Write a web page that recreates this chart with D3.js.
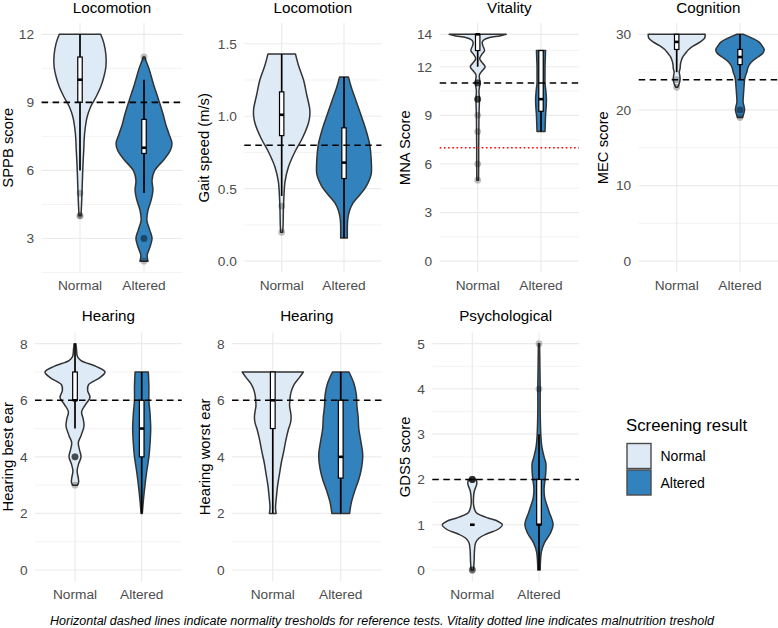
<!DOCTYPE html>
<html><head><meta charset="utf-8">
<script src="https://cdn.jsdelivr.net/npm/d3@7"></script>
<style>
body{margin:0;background:#fff}
svg{display:block}
text{font-family:"Liberation Sans",Arial,Helvetica,sans-serif}
</style>
</head><body>
<svg id="chart" width="778" height="628"></svg>
<script>
// ---------------- data ----------------
const groups = ["Normal", "Altered"];
const panelTitles = ["Locomotion","Locomotion","Vitality","Cognition","Hearing","Hearing","Psychological"];
const yTitles = ["SPPB score","Gait speed (m/s)","MNA Score","MEC score","Hearing best ear","Hearing worst ear","GDS5 score"];
const yLimits = [[2,12],[0,1.565],[0,14],[0,30],[0,8],[0,8],[0,5]];
const yBreaks = [[3,6,9,12],[0,0.5,1,1.5],[0,3,6,9,12,14],[0,10,20,30],[0,2,4,6,8],[0,2,4,6,8],[0,1,2,3,4,5]];
const yBreakLabels = [["3","6","9","12"],["0.0","0.5","1.0","1.5"],["0","3","6","9","12","14"],["0","10","20","30"],["0","2","4","6","8"],["0","2","4","6","8"],["0","1","2","3","4","5"]];
const normalityThresholds = [9, 0.8, 11, 24, 6, 6, 2];
const malnutritionThreshold = 7; // Vitality panel only
const captionText = "Horizontal dashed lines indicate normality tresholds for reference tests. Vitality dotted line indicates malnutrition treshold";
const legendTitle = "Screening result";

// violin profiles: [value, relative half width]
const sppbNormal = [[4,.035],[4.69,.06],[5.43,.08],[6.16,.10],[6.9,.13],[7.63,.16],[8.37,.25],[8.81,.37],[9.25,.56],[9.69,.72],[10.13,.83],[10.57,.90],[11.09,.90],[11.6,.83],[12,.72]];
const sppbAltered = [[2,.14],[2.26,.11],[2.6,.20],[3,.28],[3.37,.20],[3.8,.10],[4.25,.14],[4.7,.25],[5.13,.31],[5.57,.28],[6,.37],[6.5,.71],[6.9,.92],[7.2,.97],[7.6,.87],[8,.76],[8.4,.68],[9.1,.51],[9.8,.33],[10.5,.17],[10.9,.05],[11,.03]];
const gaitNormal = [[0.2,.035],[0.25,.05],[0.35,.06],[0.45,.08],[0.55,.12],[0.65,.24],[0.75,.46],[0.85,.74],[0.95,.95],[1.0,1.0],[1.05,1.0],[1.15,.89],[1.25,.78],[1.35,.60],[1.43,.49]];
const gaitAltered = [[0.16,.12],[0.25,.12],[0.3,.14],[0.35,.20],[0.4,.32],[0.45,.53],[0.5,.74],[0.55,.88],[0.6,.97],[0.7,.97],[0.8,.92],[0.9,.79],[1.0,.62],[1.1,.44],[1.2,.26],[1.27,.16]];
const mnaNormal = [[5,.03],[6,.035],[7,.035],[8,.04],[9,.045],[10,.06],[10.5,.045],[11,.08],[11.5,.06],[11.75,.16],[12,.26],[12.25,.16],[12.5,.07],[12.75,.14],[13,.24],[13.3,.18],[13.5,.16],[13.65,.21],[13.8,.42],[13.9,.77],[14,1.0]];
const mnaAltered = [[8,.14],[8.5,.15],[9,.16],[9.5,.18],[10,.19],[10.5,.17],[11,.14],[11.5,.14],[12,.14],[12.5,.15],[13,.16]];
const mecNormal = [[23,.035],[23.5,.09],[24,.12],[24.5,.11],[25,.09],[25.5,.12],[26,.13],[26.5,.16],[27,.21],[27.5,.31],[28,.42],[28.5,.60],[29,.83],[29.5,.98],[30,1.0]];
const mecAltered = [[19,.09],[19.5,.13],[20,.16],[20.5,.14],[21,.11],[22,.12],[23,.14],[24,.16],[24.5,.19],[25,.24],[25.5,.27],[26,.33],[26.5,.45],[27,.63],[27.5,.80],[28,.85],[28.5,.77],[29,.66],[29.5,.42],[30,.13]];
const bestNormal = [[3,.08],[3.1,.12],[3.25,.11],[3.5,.07],[3.75,.12],[4,.20],[4.25,.15],[4.5,.11],[4.75,.20],[5.1,.30],[5.35,.27],[5.6,.22],[5.85,.35],[6.1,.50],[6.35,.42],[6.55,.45],[6.8,.83],[7,1.0],[7.2,.70],[7.4,.20],[7.55,.08],[7.8,.05],[8,.03]];
const bestAltered = [[2,.02],[2.5,.06],[3,.11],[3.5,.17],[4,.24],[4.5,.28],[5,.30],[5.5,.28],[6,.24],[6.5,.24],[7,.22]];
const worstNormal = [[2,.11],[2.2,.09],[2.6,.12],[3,.16],[3.4,.22],[3.8,.28],[4.2,.36],[4.6,.43],[5,.52],[5.2,.58],[5.4,.60],[5.6,.58],[5.8,.55],[6,.56],[6.2,.58],[6.4,.63],[6.6,.72],[6.8,.87],[7,1.0]];
const worstAltered = [[2,.29],[2.4,.35],[2.8,.46],[3.2,.59],[3.6,.68],[4,.72],[4.2,.71],[4.6,.65],[5,.59],[5.4,.57],[5.8,.53],[6.2,.51],[6.6,.43],[7,.27]];
const gdsNormal = [[0,.04],[0.2,.06],[0.4,.07],[0.6,.11],[0.7,.22],[0.8,.49],[0.9,.86],[1,1.0],[1.1,.78],[1.15,.52],[1.25,.16],[1.3,.10],[1.45,.04],[1.6,.04],[1.75,.07],[1.9,.15],[2,.13]];
const gdsAltered = [[0,.04],[0.2,.05],[0.4,.08],[0.6,.18],[0.8,.37],[1,.47],[1.3,.33],[1.6,.19],[1.8,.17],[2.1,.22],[2.35,.23],[2.5,.17],[2.75,.09],[3,.06],[3.5,.04],[4,.04],[4.5,.03],[5,.02]];

// boxplot stats: [whiskerLow, Q1, median, Q3, whiskerHigh] for Normal, Altered
const sppbBox = [[6,9,10,11,12],[5,6.75,7,8.25,10]];
const gaitBox = [[0.45,0.866,1.01,1.168,1.43],[0.16,0.57,0.68,0.92,1.27]];
const mnaBox = [[12,13,14,14,14],[8,9.25,10,13,13]];
const mecBox = [[25,28,29,30,30],[24,26,27,28,30]];
const bestBox = [[5,6,6,7,8],[2,4,5,6,7]];
const worstBox = [[2,5,6,7,7],[2,3.25,4,6,7]];
const gdsBox = [[1,1,1,1,1],[0,1,1,2,3]];

// outliers (repeated values overlap)
const sppbOut = [[5,4,4],[11,3,3,2]];
const gaitOut = [[0.38,0.2],[]];
const mnaOut = [[11,11,11,11,10,10,10,10,9,8,6,5],[]];
const mecOut = [[24,23],[20,20,19]];
const bestOut = [[4,4,4,4,3],[]];
const worstOut = [[],[]];
const gdsOut = [[2,2,2,2,2,2,0,0,0],[4,5]];

// ---------------- styling / layout ----------------
const fills = {Normal:"#deebf7", Altered:"#3182bd"};
const violinData = [[sppbNormal,sppbAltered],[gaitNormal,gaitAltered],[mnaNormal,mnaAltered],[mecNormal,mecAltered],[bestNormal,bestAltered],[worstNormal,worstAltered],[gdsNormal,gdsAltered]];
const boxData = [sppbBox,gaitBox,mnaBox,mecBox,bestBox,worstBox,gdsBox];
const outData = [sppbOut,gaitOut,mnaOut,mecOut,bestOut,worstOut,gdsOut];

const rows = [
  {top:23, bottom:272.5, titleY:13.2, tickY:290},
  {top:332.4, bottom:581.3, titleY:321, tickY:598.5}
];
const panelBox = [
  {x0:41.6, x1:182.4, row:0, ytX:13.2},
  {x0:244.3, x1:381.4, row:0, ytX:209},
  {x0:439.7, x1:579, row:0, ytX:410},
  {x0:638.7, x1:778, row:0, ytX:608},
  {x0:35, x1:181.7, row:1, ytX:13.2},
  {x0:232, x1:381.5, row:1, ytX:209.5},
  {x0:432.3, x1:579, row:1, ytX:410}
];

const svg = d3.select("#chart");
const GRID = "#ebebeb";

panelBox.forEach((L, i) => {
  const R = rows[L.row];
  const [lo, hi] = yLimits[i];
  const pad = (hi - lo) * 0.05;
  const y = d3.scaleLinear().domain([lo - pad, hi + pad]).range([R.bottom, R.top]);
  const x = d3.scalePoint().domain(groups).range([L.x0, L.x1]).padding(0.6);
  const step = x.step();
  const maxHW = 0.45 * step;
  const g = svg.append("g");

  // minor breaks
  const b = yBreaks[i].slice();
  const bd = b[1] - b[0];
  const dom = y.domain();
  if (dom[0] < b[0]) b.unshift(b[0] - bd);
  if (dom[1] > b[b.length-1]) b.push(b[b.length-1] + bd);
  const minor = [];
  for (let k = 0; k < b.length - 1; k++) {
    const m = (b[k] + b[k+1]) / 2;
    if (m >= dom[0] - 1e-9 && m <= dom[1] + 1e-9) minor.push(m);
  }
  g.selectAll(".minor").data(minor).enter().append("line")
    .attr("x1", L.x0).attr("x2", L.x1)
    .attr("y1", d => y(d)).attr("y2", d => y(d))
    .attr("stroke", GRID).attr("stroke-width", 0.6);
  g.selectAll(".major").data(yBreaks[i]).enter().append("line")
    .attr("x1", L.x0).attr("x2", L.x1)
    .attr("y1", d => y(d)).attr("y2", d => y(d))
    .attr("stroke", GRID).attr("stroke-width", 1.2);
  g.selectAll(".vmajor").data(groups).enter().append("line")
    .attr("x1", d => x(d)).attr("x2", d => x(d))
    .attr("y1", R.top).attr("y2", R.bottom)
    .attr("stroke", GRID).attr("stroke-width", 1.2);

  // y tick labels
  g.selectAll(".ytl").data(yBreaks[i]).enter().append("text")
    .attr("x", L.x0 - 7.5).attr("y", d => y(d)).attr("dy", "0.36em")
    .attr("text-anchor", "end").attr("font-size", 13.7).attr("fill", "#4d4d4d")
    .text((d, k) => yBreakLabels[i][k]);
  // x tick labels
  g.selectAll(".xtl").data(groups).enter().append("text")
    .attr("x", d => x(d)).attr("y", R.tickY)
    .attr("text-anchor", "middle").attr("font-size", 13.7).attr("fill", "#4d4d4d")
    .text(d => d);
  // y axis title
  g.append("text")
    .attr("transform", `translate(${L.ytX},${(R.top + R.bottom) / 2}) rotate(-90)`)
    .attr("text-anchor", "middle").attr("font-size", 14.8).attr("fill", "#000")
    .text(yTitles[i]);
  // panel title
  g.append("text")
    .attr("x", (L.x0 + L.x1) / 2).attr("y", R.titleY)
    .attr("text-anchor", "middle").attr("font-size", 15.2).attr("fill", "#000")
    .text(panelTitles[i]);

  // violins
  groups.forEach((grp, j) => {
    const cx = x(grp);
    const prof = violinData[i][j].slice().sort((a, c) => a[0] - c[0]);
    const area = d3.area()
      .y(d => y(d[0]))
      .x0(d => cx - d[1] * maxHW)
      .x1(d => cx + d[1] * maxHW)
      .curve(d3.curveCatmullRom.alpha(0.5));
    g.append("path").attr("d", area(prof))
      .attr("fill", fills[grp]).attr("stroke", "#333333")
      .attr("stroke-width", 1.5).attr("stroke-linejoin", "round");
  });

  // boxplots
  groups.forEach((grp, j) => {
    const cx = x(grp);
    const [wl, q1, med, q3, wh] = boxData[i][j];
    const bw = 0.07 * step;
    g.append("line").attr("x1", cx).attr("x2", cx)
      .attr("y1", y(wl)).attr("y2", y(wh))
      .attr("stroke", "#000").attr("stroke-width", 1.7);
    g.append("rect").attr("x", cx - bw / 2).attr("width", bw)
      .attr("y", y(q3)).attr("height", Math.max(0, y(q1) - y(q3)))
      .attr("fill", "#fff").attr("stroke", "#000").attr("stroke-width", 1.2);
    g.append("line").attr("x1", cx - bw / 2).attr("x2", cx + bw / 2)
      .attr("y1", y(med)).attr("y2", y(med))
      .attr("stroke", "#000").attr("stroke-width", 2.6);
    g.selectAll(null).data(outData[i][j]).enter().append("circle")
      .attr("cx", cx).attr("cy", d => y(d)).attr("r", 3.4)
      .attr("fill", "#000").attr("fill-opacity", 0.25);
  });

  // threshold lines
  g.append("line").attr("x1", L.x0).attr("x2", L.x1)
    .attr("y1", y(normalityThresholds[i])).attr("y2", y(normalityThresholds[i]))
    .attr("stroke", "#000").attr("stroke-width", 1.6).attr("stroke-dasharray", "6.5,4.5");
  if (i === 2) {
    g.append("line").attr("x1", L.x0).attr("x2", L.x1)
      .attr("y1", y(malnutritionThreshold)).attr("y2", y(malnutritionThreshold))
      .attr("stroke", "#ff0000").attr("stroke-width", 1.6).attr("stroke-dasharray", "1.6,2.6");
  }
});

// legend
const lg = svg.append("g");
lg.append("text").attr("x", 626).attr("y", 431).attr("font-size", 16.8).attr("fill", "#000").text(legendTitle);
groups.forEach((grp, j) => {
  lg.append("rect").attr("x", 627).attr("y", 443.5 + j * 26.5).attr("width", 24).attr("height", 25)
    .attr("fill", fills[grp]).attr("stroke", "#4a4a4a").attr("stroke-width", 1.4);
  lg.append("text").attr("x", 660.5).attr("y", 456 + j * 26.5).attr("dy", "0.36em")
    .attr("font-size", 14).attr("fill", "#000").text(grp);
});

// caption
svg.append("text").attr("x", 382).attr("y", 625)
  .attr("text-anchor", "middle").attr("font-size", 12.5).attr("font-style", "italic")
  .attr("textLength", 664).attr("lengthAdjust", "spacingAndGlyphs")
  .attr("fill", "#000").text(captionText);
</script>
</body></html>
